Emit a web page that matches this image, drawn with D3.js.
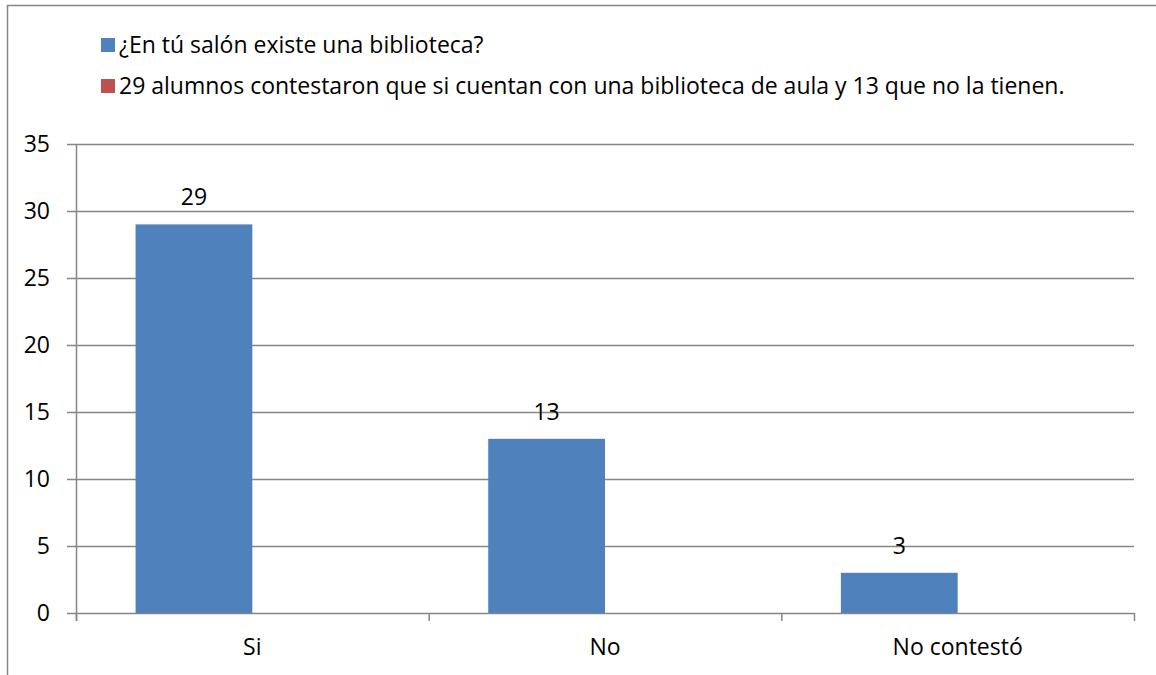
<!DOCTYPE html>
<html><head><meta charset="utf-8">
<script src="https://cdn.jsdelivr.net/npm/d3@7/dist/d3.min.js"></script>
<style>body{margin:0;background:#fff}svg{display:block}text{font-family:"Open Sans",Lato,sans-serif;fill:#000}</style>
</head><body>
<script>
const categories = ["Si", "No", "No contestó"];
const seriesNames = ["¿En tú salón existe una biblioteca?", "29 alumnos contestaron que si cuentan con una biblioteca de aula y 13 que no la tienen."];
const seriesA = [29, 13, 3];
const seriesB = [0, 0, 0];
const colors = ["#4F81BD", "#C0504D"];
const yTicks = [0, 5, 10, 15, 20, 25, 30, 35];

const W = 1156, H = 675;
const FS = 23;
const svg = d3.select("body").append("svg").attr("width", W).attr("height", H);
svg.append("rect").attr("x", 7.5).attr("y", 5.5).attr("width", W + 10).attr("height", H + 10)
  .attr("fill", "#fff").attr("stroke", "#868686").attr("stroke-width", 1.5);

const pL = 76, pR = 1134, pT = 144, pB = 613;
const y = d3.scaleLinear().domain([0, 35]).range([pB, pT]);
const x0 = d3.scaleBand().domain(categories).range([pL, pR]).paddingInner(0).paddingOuter(0);
const x1 = d3.scaleBand().domain([0, 1]).range([0, x0.bandwidth()]).paddingInner(0).paddingOuter(0.51);

svg.append("g").selectAll("line").data(yTicks).join("line")
  .attr("x1", pL - 9).attr("x2", pR).attr("y1", d => y(d) + 0.5).attr("y2", d => y(d) + 0.5)
  .attr("stroke", "#868686").attr("stroke-width", 1.5);
svg.append("line").attr("x1", pL + 0.5).attr("x2", pL + 0.5).attr("y1", pT).attr("y2", pB + 8)
  .attr("stroke", "#868686").attr("stroke-width", 1.5);
const xt = [pL, ...categories.map(c => x0(c) + x0.bandwidth())];
svg.append("g").selectAll("line").data(xt).join("line")
  .attr("x1", d => d + 0.5).attr("x2", d => d + 0.5).attr("y1", pB).attr("y2", pB + 8)
  .attr("stroke", "#868686").attr("stroke-width", 1.5);

svg.append("g").selectAll("text").data(yTicks).join("text")
  .attr("x", 50).attr("y", d => y(d) + 8).attr("text-anchor", "end")
  .attr("font-size", FS).text(d => d);

svg.append("g").selectAll("text").data(categories).join("text")
  .attr("x", d => x0(d) + x0.bandwidth() / 2).attr("y", 655).attr("text-anchor", "middle")
  .attr("font-size", FS).text(d => d);

const series = [seriesA, seriesB];
series.forEach((vals, si) => {
  svg.append("g").selectAll("rect").data(vals).join("rect")
    .attr("x", (d, i) => x0(categories[i]) + x1(si))
    .attr("width", x1.bandwidth())
    .attr("y", d => y(d)).attr("height", d => pB - y(d))
    .attr("fill", colors[si]);
});
svg.append("g").selectAll("text").data(seriesA).join("text")
  .attr("x", (d, i) => x0(categories[i]) + x1(0) + x1.bandwidth() / 2)
  .attr("y", d => y(d) - 19).attr("text-anchor", "middle").attr("font-size", FS).text(d => d);

const leg = svg.append("g");
seriesNames.forEach((n, i) => {
  const ly = 53 + i * 41;
  leg.append("rect").attr("x", 101).attr("y", ly - 15).attr("width", 14).attr("height", 14).attr("fill", colors[i]);
  leg.append("text").attr("x", 119).attr("y", ly).attr("font-size", FS).text(n);
});
</script>
</body></html>
